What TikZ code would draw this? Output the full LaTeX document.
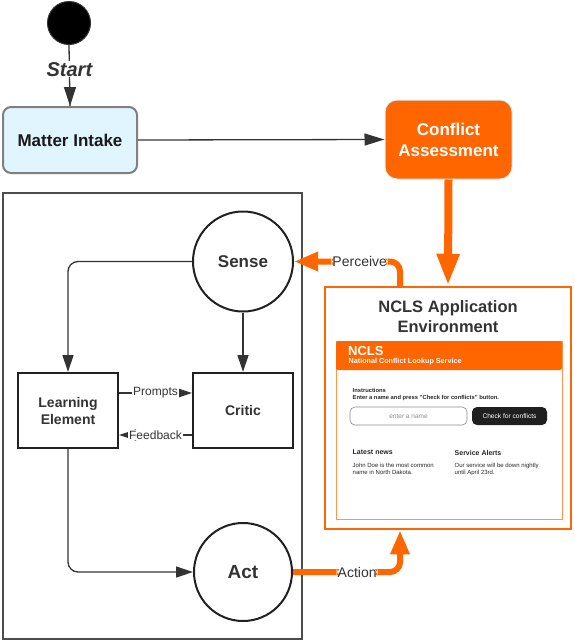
\documentclass[tikz,border=0pt]{standalone}
\usepackage{fontspec}
\setmainfont{Liberation Sans}
\usetikzlibrary{arrows.meta}
\definecolor{ora}{HTML}{FF6600}
\definecolor{dk}{HTML}{333333}
\definecolor{lb}{HTML}{E1F5FE}
\definecolor{bdr}{HTML}{D4EEF8}
\newcommand\fsz[2]{\fontsize{#1}{#2}\selectfont}
\begin{document}
\begin{tikzpicture}[x=1pt,y=-1pt,
  conn/.style={draw=dk,line width=1.3pt,-{Triangle[length=17pt,width=11pt]}},
  oarrow/.style={draw=ora,line width=6pt,-{Triangle[length=24pt,width=18pt]}},
  lbl/.style={fill=white,inner sep=1pt,text=dk},
  circ/.style={circle,draw=black!87,line width=2pt,inner sep=0pt,text=dk,font=\bfseries},
  boxn/.style={rectangle,draw=black!87,line width=2pt,inner sep=0pt,text=dk,font=\bfseries\fsz{14}{17},align=center,minimum width=100pt,minimum height=75pt},
  tiny/.style={inner sep=0pt,anchor=west,text=black!85}
]
\useasboundingbox (0,0) rectangle (574,640);

% start
\node[circle,fill=black,draw=black!80,line width=1pt,minimum size=43pt,inner sep=0pt] (start) at (69,23) {};
\node[rectangle,draw=black!50,line width=2pt,fill=lb,rounded corners=8pt,minimum width=134pt,minimum height=66pt,text=black!90,font=\bfseries\fsz{17}{20}] (mi) at (70,140) {Matter Intake};
\draw[dk,line width=1.3pt] (start.south) -- (mi.north) node[pos=0.4,fill=white,inner sep=1pt,text=dk,font=\bfseries\itshape\fsz{20}{24}] {Start};
\draw[dk,line width=1.3pt,-{Triangle[length=19pt,width=12pt]}] ([yshift=18pt]mi.north) -- (mi.north);

% conflict assessment
\node[rectangle,draw=bdr,line width=1pt,fill=ora,rounded corners=12pt,minimum width=127pt,minimum height=79pt,text=white,font=\bfseries\fsz{17}{21},align=center] (ca) at (448.5,139.5) {Conflict\\Assessment};
\draw[dk,line width=1.3pt,-{Triangle[length=20pt,width=12pt]}] (mi.east) -- (ca.west);

% NCLS environment
\node[rectangle,draw=ora,line width=2.5pt,minimum width=246pt,minimum height=242pt,inner sep=0pt] (ncls) at (448,408) {};
\draw[draw=ora,line width=8pt,-{Triangle[length=32pt,width=21pt]}] (ca.south) -- (ncls.north);
\node[text=dk,font=\bfseries\fsz{16.5}{20},align=center] (nclstitle) at (448,317) {NCLS Application\\Environment};

% web page mock-up
\draw[ora!70,line width=0.8pt] (336,341) rectangle (562,519);
\fill[ora,rounded corners=2pt] (336,370) -- (336,341) -- (562,341) -- (562,370) -- cycle;
\node[tiny,text=white,font=\bfseries\fsz{13}{15}] (hdr) at (348,351.5) {NCLS};
\node[tiny,text=white,font=\bfseries\fsz{7.2}{9}] (sub) at (348.5,361.5) {National Conflict Lookup Service};
\node[tiny,font=\bfseries\fsz{5.8}{7}] (ins) at (352.5,390.5) {Instructions};
\node[tiny,font=\bfseries\fsz{5.8}{7}] (ins2) at (352.5,397.5) {Enter a name and press "Check for conflicts" button.};
\node[rectangle,draw=black!45,line width=0.6pt,rounded corners=5pt,minimum width=117pt,minimum height=18pt,inner sep=0pt,text=black!45,font=\fsz{6.5}{8}] (field) at (408.5,416) {enter a name};
\node[rectangle,fill=black!88,rounded corners=5pt,minimum width=75pt,minimum height=18pt,inner sep=0pt,text=white,font=\fsz{6.6}{8}] (btn) at (509.5,416) {Check for conflicts};
\node[tiny,font=\bfseries\fsz{7}{8}] (news) at (352.5,452.5) {Latest news};
\node[tiny,font=\bfseries\fsz{7}{8}] (alerts) at (454.5,452.5) {Service Alerts};
\node[tiny,font=\fsz{6}{7},align=left,anchor=north west] (newsb) at (352.5,462.5) {John Doe is the most common\\name in North Dakota.};
\node[tiny,font=\fsz{6}{7},align=left,anchor=north west] (alertsb) at (454.5,462.5) {Our service will be down nightly\\until April 23rd.};

% agent box
\node[rectangle,draw=black!70,line width=1.2pt,minimum width=299pt,minimum height=446pt,inner sep=0pt] (agent) at (152.5,416) {};
\node[circ,minimum size=100pt,font=\bfseries\fsz{17}{20}] (sense) at (243,261.5) {Sense};
\node[circ,minimum size=98pt,font=\bfseries\fsz{19}{22}] (act) at (243,572) {Act};
\node[boxn] (le) at (68,410.5) {Learning\\Element};
\node[boxn] (critic) at (243,410.5) {Critic};

\draw[conn,rounded corners=10pt] (sense.west) -| (le.north);
\draw[conn] (sense.south) -- (critic.north);
\draw[conn] ([yshift=17.5pt]le.east) -- ([yshift=17.5pt]critic.west) node[midway,lbl,font=\fsz{12}{14}] {Prompts};
\draw[conn] ([yshift=-24.5pt]critic.west) -- ([yshift=-24.5pt]le.east) node[midway,lbl,font=\fsz{12}{14}] {Feedback};
\draw[conn,rounded corners=10pt] (le.south) |- (act.west);

% orange loops
\draw[oarrow,rounded corners=10pt] ([xshift=-48pt]ncls.north) |- (sense.east) node[pos=0.69,lbl,font=\fsz{14}{16}] {Perceive};
\draw[oarrow,rounded corners=10pt] (act.east) -| ([xshift=-48pt]ncls.south) node[pos=0.3,lbl,font=\fsz{14}{16}] {Action};
\end{tikzpicture}
\end{document}
